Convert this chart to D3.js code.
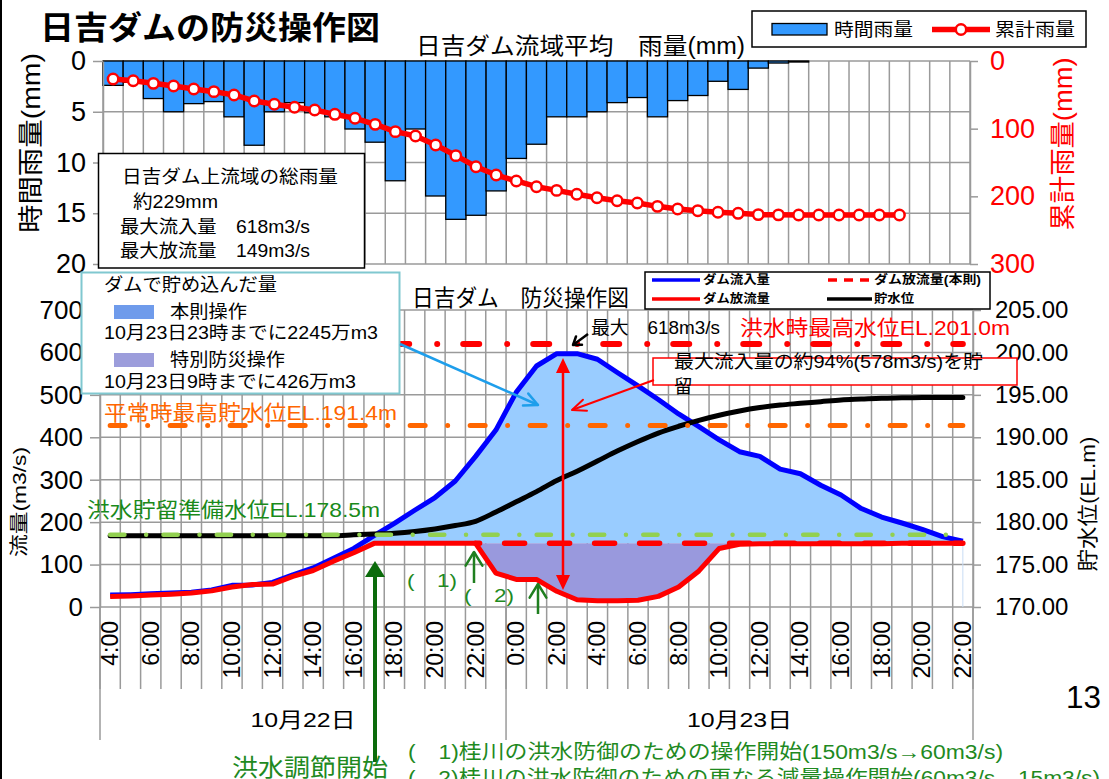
<!DOCTYPE html>
<html><head><meta charset="utf-8">
<script src="https://cdn.jsdelivr.net/npm/d3@7"></script>
<style>
html,body{margin:0;padding:0;background:#fff;}
svg{display:block;font-family:"Liberation Sans","Noto Sans CJK JP",sans-serif;}
</style></head><body>
<svg id="chart" width="1109" height="779"></svg>
<script>
// ---------- data ----------
const categories = ["4:00","5:00","6:00","7:00","8:00","9:00","10:00","11:00","12:00","13:00","14:00","15:00","16:00","17:00","18:00","19:00","20:00","21:00","22:00","23:00",
  "0:00","1:00","2:00","3:00","4:00","5:00","6:00","7:00","8:00","9:00","10:00","11:00","12:00","13:00","14:00","15:00","16:00","17:00","18:00","19:00","20:00","21:00","22:00"];
const dates = ["10月22日","10月23日"];
const dateSpans = [20, 23];

const hourlyRain = [2.4,2.1,3.7,5.0,4.2,4.0,5.5,8.3,5.0,4.1,5.1,5.5,6.7,8.0,11.8,6.7,13.3,15.6,15.2,12.8,9.6,8.2,5.5,5.5,5.0,4.1,3.6,5.5,3.9,3.4,2.0,2.8,0.7,0.2,0.1,0,0,0,0,0,0,0,0];
const cumulativeRain = [26.6,29.1,33.0,36.9,41.4,45.3,50.2,59.1,64.0,68.4,72.4,78.8,84.7,93.6,104.4,110.8,124.1,139.9,156.2,168.5,177.3,185.8,191.2,197.0,202.0,206.6,209.8,214.8,218.7,221.2,223.6,225.1,227.0,227.4,227.6,227.6,227.6,227.6,227.6,227.6];

const inflow = [28,29,31,33,35,40,51,52,58,76,92,115,138,168,197,228,258,297,355,417,506,568,597,597,584,552,521,489,455,425,394,366,355,325,314,287,264,232,212,198,183,166,155];
const outflow = [25,26,28,30,33,38,47,53,54,72,86,108,128,150,150,150,150,150,150,80,65,65,37,17,15,15,16,25,47,85,138,148,149,149,149,149,149,149,149,150,150,150,150];
const ruleOutflow = [null,null,null,null,null,null,null,null,null,null,null,null,null,null,null,null,null,null,150,150,150,150,150,150,150,150,150,150,150,150,150,150,150,150,150,150,150,150,150,150,150,150,150];
const waterLevel = [178.4,178.4,178.4,178.4,178.4,178.4,178.4,178.4,178.4,178.4,178.4,178.4,178.5,178.6,178.7,178.9,179.2,179.6,180.1,181.2,182.4,183.6,184.9,186.0,187.2,188.4,189.5,190.5,191.3,192.0,192.6,193.1,193.5,193.8,194.0,194.2,194.4,194.5,194.6,194.65,194.7,194.7,194.7];

const refLevels = [191.4, 201.0, 178.5];
const refLabels = ["平常時最高貯水位EL.191.4m", "洪水時最高水位EL.201.0m", "洪水貯留準備水位EL.178.5m"];

const rainTicks = [0,5,10,15,20];
const cumTicks = [0,100,200,300];
const flowTicks = [0,100,200,300,400,500,600,700];
const levelTicks = [170,175,180,185,190,195,200,205];

(function () {
// ---------- helpers ----------
const svg = d3.select("#chart");
const GRID = "#9a9a9a";
function label(g, x, y, s, o = {}) {
  const t = g.append("text").attr("x", x).attr("y", y).attr("dy", "0.35em").text(s)
    .attr("font-size", o.size || 18).attr("fill", o.fill || "#000")
    .attr("text-anchor", o.anchor || "start");
  if (o.weight) t.attr("font-weight", o.weight);
  if (o.width) t.attr("textLength", o.width).attr("lengthAdjust", "spacingAndGlyphs");
  if (o.rotate) t.attr("transform", `rotate(${o.rotate},${x},${y})`);
  return t;
}
function styleAxis(g, size, color) {
  g.attr("font-family", null).attr("font-size", size);
  g.select(".domain").attr("stroke", GRID).attr("stroke-width", 1.5);
  g.selectAll(".tick line").attr("stroke", GRID).attr("stroke-width", 1.5);
  g.selectAll(".tick text").attr("fill", color);
}
function vArrow(g, x1, y1, x2, y2, color, w, head = 13, spread = 0.5) {
  g.append("line").attr("x1", x1).attr("y1", y1).attr("x2", x2).attr("y2", y2)
    .attr("stroke", color).attr("stroke-width", w);
  const a = Math.atan2(y2 - y1, x2 - x1);
  const p = [[x2 - head * Math.cos(a - spread), y2 - head * Math.sin(a - spread)], [x2, y2],
             [x2 - head * Math.cos(a + spread), y2 - head * Math.sin(a + spread)]];
  g.append("path").attr("d", d3.line()(p)).attr("fill", "none").attr("stroke", color)
    .attr("stroke-width", w).attr("stroke-linecap", "round").attr("stroke-linejoin", "round");
}
function triHead(g, x, y, dir, half, len, color) {
  g.append("path").attr("d", d3.line()([[x, y], [x - half, y + dir * len], [x + half, y + dir * len]]) + "Z")
    .attr("fill", color);
}

// outer left border
svg.append("rect").attr("x", 0).attr("y", 0).attr("width", 2).attr("height", 779).attr("fill", "#000");

// ================= TOP CHART =================
const topG = svg.append("g");
const xTop = d3.scaleBand().domain(d3.range(categories.length)).range([103, 970]).padding(0);
const bwT = xTop.bandwidth();
const yRain = d3.scaleLinear().domain([0, 20]).range([61, 264]);
const yCum = d3.scaleLinear().domain([0, 300]).range([61, 264]);

topG.selectAll(".hg").data(rainTicks).join("line")
  .attr("x1", 103).attr("x2", 970).attr("y1", d => yRain(d)).attr("y2", d => yRain(d))
  .attr("stroke", GRID).attr("stroke-width", 1.5);
topG.selectAll(".vg").data(d3.range(categories.length + 1)).join("line")
  .attr("x1", i => 103 + i * bwT).attr("x2", i => 103 + i * bwT).attr("y1", 61).attr("y2", 264)
  .attr("stroke", GRID).attr("stroke-width", 1.5);

topG.selectAll(".bar").data(hourlyRain.map((v, i) => ({ v, i })).filter(d => d.v > 0)).join("rect")
  .attr("x", d => xTop(d.i)).attr("y", yRain(0)).attr("width", bwT)
  .attr("height", d => yRain(d.v) - yRain(0))
  .attr("fill", "#3399FF").attr("stroke", "#000").attr("stroke-width", 1.3);

const axL = topG.append("g").attr("transform", "translate(103,0)")
  .call(d3.axisLeft(yRain).tickValues(rainTicks).tickSize(10).tickSizeOuter(0).tickPadding(7));
styleAxis(axL, 27, "#000");
const axR = topG.append("g").attr("transform", "translate(970,0)")
  .call(d3.axisRight(yCum).tickValues(cumTicks).tickSize(8).tickSizeOuter(0).tickPadding(12));
styleAxis(axR, 27, "#FF0000");

topG.append("path").datum(cumulativeRain)
  .attr("d", d3.line().x((d, i) => xTop(i) + bwT / 2).y(d => yCum(d)))
  .attr("fill", "none").attr("stroke", "#FF0000").attr("stroke-width", 5.5).attr("stroke-linejoin", "round");
topG.selectAll(".mk").data(cumulativeRain).join("circle")
  .attr("cx", (d, i) => xTop(i) + bwT / 2).attr("cy", d => yCum(d)).attr("r", 5.2)
  .attr("fill", "#fff").attr("stroke", "#FF0000").attr("stroke-width", 2.5);

label(svg, 40, 28, "日吉ダムの防災操作図", { size: 32, weight: "bold", width: 340 });
label(svg, 416, 46, "日吉ダム流域平均　雨量(mm)", { size: 23, width: 329 });
label(svg, 31, 143, "時間雨量(mm)", { size: 26, anchor: "middle", rotate: -90, width: 180 });
label(svg, 1063, 144, "累計雨量(mm)", { size: 26, anchor: "middle", rotate: -90, width: 173, fill: "#FF0000" });

svg.append("rect").attr("x", 752).attr("y", 11).attr("width", 334).attr("height", 36)
  .attr("fill", "#fff").attr("stroke", "#000").attr("stroke-width", 1.5);
svg.append("rect").attr("x", 772).attr("y", 23.5).attr("width", 55).attr("height", 11.5)
  .attr("fill", "#3399FF").attr("stroke", "#000").attr("stroke-width", 1.3);
label(svg, 834, 29.5, "時間雨量", { size: 18, width: 79 });
svg.append("line").attr("x1", 932).attr("x2", 990).attr("y1", 29.5).attr("y2", 29.5)
  .attr("stroke", "#FF0000").attr("stroke-width", 5.5);
svg.append("circle").attr("cx", 961).attr("cy", 29.5).attr("r", 5.2)
  .attr("fill", "#fff").attr("stroke", "#FF0000").attr("stroke-width", 2.5);
label(svg, 995, 29.5, "累計雨量", { size: 18, width: 80 });

svg.append("rect").attr("x", 98.5).attr("y", 153.5).attr("width", 266).attr("height", 114.5)
  .attr("fill", "#fff").attr("stroke", "#000").attr("stroke-width", 1.5);
label(svg, 122, 177, "日吉ダム上流域の総雨量", { size: 18.5, width: 216 });
label(svg, 133, 202, "約229mm", { size: 18.5, width: 85 });
label(svg, 120, 227, "最大流入量　618m3/s", { size: 18.5, width: 190 });
label(svg, 120, 251, "最大放流量　149m3/s", { size: 18.5, width: 190 });

// ================= BOTTOM CHART =================
const bot = svg.append("g");
const xBot = d3.scaleBand().domain(d3.range(categories.length)).range([100, 973]).padding(0);
const bwB = xBot.bandwidth();
const cx = i => xBot(i) + bwB / 2;
const yFlow = d3.scaleLinear().domain([0, 700]).range([607, 310]);
const yLevel = d3.scaleLinear().domain([170, 205]).range([607, 310]);

bot.selectAll(".hg").data(flowTicks).join("line")
  .attr("x1", 100).attr("x2", 973).attr("y1", d => yFlow(d)).attr("y2", d => yFlow(d))
  .attr("stroke", GRID).attr("stroke-width", 1.5);
bot.selectAll(".vg").data(d3.range(categories.length + 1)).join("line")
  .attr("x1", i => 100 + i * bwB).attr("x2", i => 100 + i * bwB).attr("y1", 310).attr("y2", 689)
  .attr("stroke", GRID).attr("stroke-width", 1.5);
const sepIdx = [0, dateSpans[0], dateSpans[0] + dateSpans[1]];
bot.selectAll(".sep").data(sepIdx).join("line")
  .attr("x1", i => 100 + i * bwB).attr("x2", i => 100 + i * bwB).attr("y1", 607).attr("y2", 740)
  .attr("stroke", GRID).attr("stroke-width", 1.5);
dates.forEach((d, k) => {
  const a = sepIdx[k], b = sepIdx[k + 1];
  label(bot, (100 + a * bwB + 100 + b * bwB) / 2, 720, d, { size: 21, anchor: "middle", width: 105 });
});

const base = i => ruleOutflow[i] != null ? ruleOutflow[i] : outflow[i];
bot.append("path").datum(inflow)
  .attr("d", d3.area().x((d, i) => cx(i)).y0((d, i) => yFlow(base(i))).y1(d => yFlow(d)))
  .attr("fill", "#99CCFF");
bot.append("path").datum(ruleOutflow)
  .attr("d", d3.area().defined(d => d != null).x((d, i) => cx(i))
    .y0((d, i) => yFlow(outflow[i])).y1(d => yFlow(d)))
  .attr("fill", "#9999DD");
bot.append("line").attr("x1", cx(42)).attr("x2", cx(42)).attr("y1", yFlow(ruleOutflow[42])).attr("y2", yFlow(0))
  .attr("stroke", "#c8dcf4").attr("stroke-width", 1);

bot.append("path").datum(inflow)
  .attr("d", d3.line().x((d, i) => cx(i)).y(d => yFlow(d)))
  .attr("fill", "none").attr("stroke", "#0000FF").attr("stroke-width", 5).attr("stroke-linejoin", "round");
bot.append("path").datum(outflow)
  .attr("d", d3.line().x((d, i) => cx(i)).y(d => yFlow(d)))
  .attr("fill", "none").attr("stroke", "#FF0000").attr("stroke-width", 5).attr("stroke-linejoin", "round");
bot.append("path").datum(ruleOutflow)
  .attr("d", d3.line().defined(d => d != null).x((d, i) => cx(i)).y(d => yFlow(d)))
  .attr("fill", "none").attr("stroke", "#FF0000").attr("stroke-width", 5.5)
  .attr("stroke-dasharray", "20 25").attr("stroke-dashoffset", 16).attr("stroke-linecap", "round");
bot.append("path").datum(waterLevel)
  .attr("d", d3.line().curve(d3.curveMonotoneX).x((d, i) => cx(i)).y(d => yLevel(d)))
  .attr("fill", "none").attr("stroke", "#000").attr("stroke-width", 5).attr("stroke-linecap", "round");

const refStyle = [
  { color: "#FF6600", w: 5, dash: "15 22.5 0.01 22.49", off: 0 },
  { color: "#FF0000", w: 6, dash: "16 28 0.01 26", off: -3 },
  { color: "#92D050", w: 4.5, dash: "14.3 21.7 0.01 17.3", off: 0 }
];
refLevels.forEach((v, k) => {
  bot.append("line").attr("x1", cx(0)).attr("x2", cx(42)).attr("y1", yLevel(v)).attr("y2", yLevel(v))
    .attr("stroke", refStyle[k].color).attr("stroke-width", refStyle[k].w)
    .attr("stroke-dasharray", refStyle[k].dash).attr("stroke-dashoffset", refStyle[k].off)
    .attr("stroke-linecap", "round");
});
label(bot, 104, 413, refLabels[0], { size: 21, fill: "#FF6600", width: 293 });
label(bot, 740, 328, refLabels[1], { size: 21, fill: "#FF0000", width: 270 });
label(bot, 87, 510, refLabels[2], { size: 21, fill: "#1a8a1a", width: 293 });

const bL = bot.append("g").attr("transform", "translate(100,0)")
  .call(d3.axisLeft(yFlow).tickValues(flowTicks).tickSize(10).tickSizeOuter(0).tickPadding(7));
styleAxis(bL, 26, "#000");
const bR = bot.append("g").attr("transform", "translate(973,0)")
  .call(d3.axisRight(yLevel).tickValues(levelTicks).tickFormat(d3.format(".2f")).tickSize(8).tickSizeOuter(0).tickPadding(14));
styleAxis(bR, 24, "#000");
const bX = bot.append("g").attr("transform", "translate(0,607)")
  .call(d3.axisBottom(xBot).tickValues(d3.range(0, categories.length, 2)).tickFormat(i => categories[i]).tickSize(0));
bX.attr("font-family", null).attr("font-size", 23);
bX.select(".domain").remove();
bX.selectAll(".tick text").attr("fill", "#000").attr("transform", "rotate(-90)")
  .attr("text-anchor", "end").attr("x", -14).attr("y", 0).attr("dy", "0.35em");

label(svg, 19, 502, "流量(m3/s)", { size: 19, anchor: "middle", rotate: -90, width: 110 });
label(svg, 1088, 504, "貯水位(EL.m)", { size: 21, anchor: "middle", rotate: -90, width: 135 });
label(svg, 412, 298, "日吉ダム　防災操作図", { size: 22.5, width: 217 });

svg.append("rect").attr("x", 645).attr("y", 272).attr("width", 345).attr("height", 37)
  .attr("fill", "#fff").attr("stroke", "#000").attr("stroke-width", 1.5);
svg.append("line").attr("x1", 652).attr("x2", 700).attr("y1", 280).attr("y2", 280).attr("stroke", "#0000FF").attr("stroke-width", 3.5);
label(svg, 703, 280, "ダム流入量", { size: 12.5, weight: "bold", width: 67 });
svg.append("line").attr("x1", 828).attr("x2", 870).attr("y1", 280).attr("y2", 280).attr("stroke", "#FF0000").attr("stroke-width", 3.5).attr("stroke-dasharray", "9 7");
label(svg, 874, 280, "ダム放流量(本則)", { size: 12.5, weight: "bold", width: 107 });
svg.append("line").attr("x1", 652).attr("x2", 700).attr("y1", 299).attr("y2", 299).attr("stroke", "#FF0000").attr("stroke-width", 3.5);
label(svg, 703, 299, "ダム放流量", { size: 12.5, weight: "bold", width: 67 });
svg.append("line").attr("x1", 827).attr("x2", 872).attr("y1", 299).attr("y2", 299).attr("stroke", "#000").attr("stroke-width", 3.5);
label(svg, 874, 299, "貯水位", { size: 12.5, weight: "bold", width: 40 });

svg.append("rect").attr("x", 81.5).attr("y", 272.5).attr("width", 318).attr("height", 121)
  .attr("fill", "#fff").attr("stroke", "#80C8D0").attr("stroke-width", 2);
label(svg, 104, 285, "ダムで貯め込んだ量", { size: 18, width: 173 });
svg.append("rect").attr("x", 114).attr("y", 305).attr("width", 40).attr("height", 14).attr("fill", "#6F9BEB");
label(svg, 170, 312, "本則操作", { size: 18, width: 77 });
label(svg, 104, 333, "10月23日23時までに2245万m3", { size: 18, width: 274 });
svg.append("rect").attr("x", 114).attr("y", 353).attr("width", 40).attr("height", 14).attr("fill", "#9C9DDB");
label(svg, 170, 359.5, "特別防災操作", { size: 18, width: 115 });
label(svg, 104, 382, "10月23日9時までに426万m3", { size: 18, width: 252 });

const ann = svg.append("g");
vArrow(ann, 400, 344, 538, 405, "#1E9EEB", 2.5, 15, 0.45);
label(ann, 591, 328, "最大　618m3/s", { size: 18, width: 129 });
vArrow(ann, 588, 334, 573, 345, "#000", 2.5, 9, 0.6);
ann.append("rect").attr("x", 653).attr("y", 358).attr("width", 364).attr("height", 27)
  .attr("fill", "#fff").attr("stroke", "#FF0000").attr("stroke-width", 1.5);
label(ann, 674, 362, "最大流入量の約94%(578m3/s)を貯", { size: 18.5, width: 309 });
label(ann, 674, 387, "留", { size: 18.5 });
vArrow(ann, 654, 380, 572, 410, "#FF0000", 2, 15, 0.4);
ann.append("line").attr("x1", 563).attr("x2", 563).attr("y1", 368).attr("y2", 580).attr("stroke", "#FF0000").attr("stroke-width", 2.5);
triHead(ann, 563, 358, 1, 7, 15, "#FF0000");
triHead(ann, 563, 590, -1, 7, 15, "#FF0000");

ann.append("line").attr("x1", 375).attr("x2", 375).attr("y1", 762).attr("y2", 574).attr("stroke", "#0B6B0B").attr("stroke-width", 4);
triHead(ann, 375, 561, 1, 10, 16, "#0B6B0B");
vArrow(ann, 474, 583, 474, 552, "#1F7F1F", 2.5, 16, 0.55);
vArrow(ann, 538, 614, 538, 584, "#1F7F1F", 2.5, 16, 0.55);
label(ann, 407, 580, "(　1)", { size: 19, fill: "#1f8a1f", width: 50 });
label(ann, 464, 595, "(　2)", { size: 19, fill: "#1f8a1f", width: 50 });
label(ann, 232, 768, "洪水調節開始", { size: 24, fill: "#1f8a1f", width: 156 });
label(ann, 408, 752, "(　1)桂川の洪水防御のための操作開始(150m3/s→60m3/s)", { size: 20, fill: "#1f8a1f", width: 595 });
label(ann, 408, 778, "(　2)桂川の洪水防御のための更なる減量操作開始(60m3/s→15m3/s)", { size: 20, fill: "#1f8a1f", width: 692 });
label(svg, 1101, 697, "13", { size: 32, anchor: "end", width: 35 });
})();
</script>
</body></html>
